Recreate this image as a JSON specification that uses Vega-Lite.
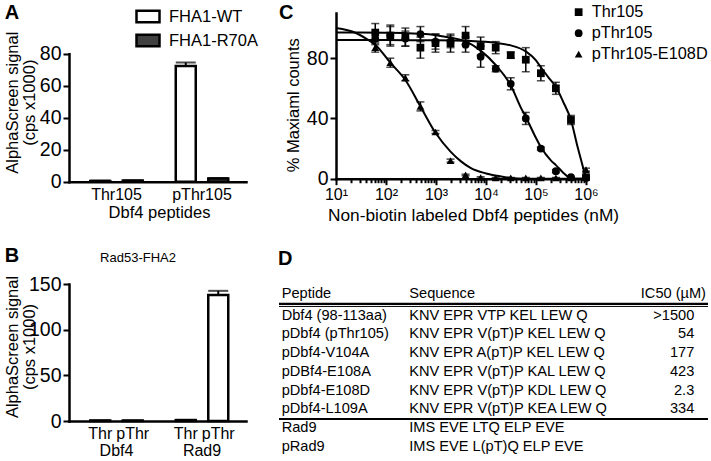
{
  "$schema": "https://vega.github.io/schema/vega-lite/v6.json",
  "background": "white",
  "autosize": {"type": "pad"},
  "padding": {"left": 4, "top": 2, "right": 0, "bottom": 0},
  "config": {
    "font": "Liberation Sans",
    "view": {"stroke": null},
    "mark": {"color": "black"},
    "axis": {"grid": false, "domainColor": "black", "domainWidth": 2.5, "domainCap": "square", "tickColor": "black", "tickWidth": 2, "tickSize": 6, "labelColor": "black", "titleColor": "black", "labelFont": "Liberation Sans", "titleFont": "Liberation Sans", "titleFontWeight": "normal", "labelFontSize": 16, "titleFontSize": 16.5, "labelOverlap": false},
    "axisY": {"labelFontSize": 19.5, "labelPadding": 2},
    "legend": {"labelFont": "Liberation Sans", "labelColor": "black"},
    "title": {"font": "Liberation Sans", "color": "black", "fontSize": 20, "fontWeight": "bold", "anchor": "start"},
    "text": {"font": "Liberation Sans", "color": "black"}
  },
  "datasets": {
    "panelA": [
      {"peptide": "Thr105", "construct": "FHA1-WT", "signal": 0.5, "upper": 0.7},
      {"peptide": "Thr105", "construct": "FHA1-R70A", "signal": 0.7, "upper": 0.9},
      {"peptide": "pThr105", "construct": "FHA1-WT", "signal": 72.3, "upper": 74.5},
      {"peptide": "pThr105", "construct": "FHA1-R70A", "signal": 2.0, "upper": 2.3}
    ],
    "panelB": [
      {"gene": "Dbf4", "form": "Thr", "signal": 0.5, "upper": 0.6},
      {"gene": "Dbf4", "form": "pThr", "signal": 0.5, "upper": 0.6},
      {"gene": "Rad9", "form": "Thr", "signal": 1.0, "upper": 1.2},
      {"gene": "Rad9", "form": "pThr", "signal": 138, "upper": 142.5}
    ],
    "panelBTitle": [
      {"label": "Rad53-FHA2"}
    ],
    "curves": [
      {"series": "Thr105", "conc": 10, "pct": 92},
      {"series": "Thr105", "conc": 100, "pct": 92},
      {"series": "Thr105", "conc": 1000, "pct": 91.9},
      {"series": "Thr105", "conc": 5000, "pct": 91.4},
      {"series": "Thr105", "conc": 15625, "pct": 90.2},
      {"series": "Thr105", "conc": 31250, "pct": 88.5},
      {"series": "Thr105", "conc": 62500, "pct": 84.5},
      {"series": "Thr105", "conc": 100000, "pct": 78.5},
      {"series": "Thr105", "conc": 125000, "pct": 74},
      {"series": "Thr105", "conc": 180000, "pct": 67},
      {"series": "Thr105", "conc": 250000, "pct": 61},
      {"series": "Thr105", "conc": 350000, "pct": 51},
      {"series": "Thr105", "conc": 500000, "pct": 39},
      {"series": "Thr105", "conc": 680000, "pct": 21},
      {"series": "Thr105", "conc": 850000, "pct": 9},
      {"series": "Thr105", "conc": 1000000, "pct": 0},
      {"series": "pThr105", "conc": 10, "pct": 97},
      {"series": "pThr105", "conc": 100, "pct": 96.9},
      {"series": "pThr105", "conc": 500, "pct": 96.2},
      {"series": "pThr105", "conc": 1000, "pct": 95.3},
      {"series": "pThr105", "conc": 2000, "pct": 93.6},
      {"series": "pThr105", "conc": 3900, "pct": 91.2},
      {"series": "pThr105", "conc": 7813, "pct": 85},
      {"series": "pThr105", "conc": 15625, "pct": 75.5},
      {"series": "pThr105", "conc": 31250, "pct": 62},
      {"series": "pThr105", "conc": 50000, "pct": 47},
      {"series": "pThr105", "conc": 62500, "pct": 41},
      {"series": "pThr105", "conc": 100000, "pct": 27},
      {"series": "pThr105", "conc": 125000, "pct": 21},
      {"series": "pThr105", "conc": 200000, "pct": 12},
      {"series": "pThr105", "conc": 250000, "pct": 9},
      {"series": "pThr105", "conc": 350000, "pct": 4},
      {"series": "pThr105", "conc": 450000, "pct": 1},
      {"series": "pThr105", "conc": 500000, "pct": 0.2},
      {"series": "pThr105", "conc": 1000000, "pct": 0},
      {"series": "pThr105-E108D", "conc": 10, "pct": 100},
      {"series": "pThr105-E108D", "conc": 25, "pct": 96.7},
      {"series": "pThr105-E108D", "conc": 40, "pct": 93},
      {"series": "pThr105-E108D", "conc": 61, "pct": 89},
      {"series": "pThr105-E108D", "conc": 122, "pct": 77},
      {"series": "pThr105-E108D", "conc": 244, "pct": 65.5},
      {"series": "pThr105-E108D", "conc": 488, "pct": 48},
      {"series": "pThr105-E108D", "conc": 977, "pct": 30.5},
      {"series": "pThr105-E108D", "conc": 1953, "pct": 18},
      {"series": "pThr105-E108D", "conc": 3162, "pct": 11.5},
      {"series": "pThr105-E108D", "conc": 5000, "pct": 7},
      {"series": "pThr105-E108D", "conc": 10000, "pct": 3.5},
      {"series": "pThr105-E108D", "conc": 20000, "pct": 1.5},
      {"series": "pThr105-E108D", "conc": 31250, "pct": 0.5},
      {"series": "pThr105-E108D", "conc": 60000, "pct": 0},
      {"series": "pThr105-E108D", "conc": 1000000, "pct": 0}
    ],
    "points": [
      {"series": "Thr105", "conc": 61, "pct": 97, "err": 6},
      {"series": "Thr105", "conc": 122, "pct": 95, "err": 7},
      {"series": "Thr105", "conc": 244, "pct": 94, "err": 6},
      {"series": "Thr105", "conc": 488, "pct": 87, "err": 7},
      {"series": "Thr105", "conc": 977, "pct": 90, "err": 6},
      {"series": "Thr105", "conc": 1953, "pct": 90, "err": 6},
      {"series": "Thr105", "conc": 3906, "pct": 95, "err": 6},
      {"series": "Thr105", "conc": 7813, "pct": 88, "err": 6},
      {"series": "Thr105", "conc": 15625, "pct": 87, "err": 4},
      {"series": "Thr105", "conc": 31250, "pct": 82, "err": 2},
      {"series": "Thr105", "conc": 62500, "pct": 79, "err": 8},
      {"series": "Thr105", "conc": 125000, "pct": 70, "err": 5},
      {"series": "Thr105", "conc": 250000, "pct": 60, "err": 4},
      {"series": "Thr105", "conc": 500000, "pct": 39, "err": 3},
      {"series": "Thr105", "conc": 1000000, "pct": 1, "err": 1},
      {"series": "pThr105", "conc": 61, "pct": 93, "err": 4},
      {"series": "pThr105", "conc": 122, "pct": 95, "err": 6},
      {"series": "pThr105", "conc": 244, "pct": 93, "err": 5},
      {"series": "pThr105", "conc": 488, "pct": 96, "err": 5},
      {"series": "pThr105", "conc": 977, "pct": 91, "err": 5},
      {"series": "pThr105", "conc": 1953, "pct": 91, "err": 4},
      {"series": "pThr105", "conc": 3906, "pct": 89, "err": 5},
      {"series": "pThr105", "conc": 7813, "pct": 81, "err": 7},
      {"series": "pThr105", "conc": 15625, "pct": 73, "err": 2},
      {"series": "pThr105", "conc": 31250, "pct": 63, "err": 4},
      {"series": "pThr105", "conc": 62500, "pct": 40, "err": 4},
      {"series": "pThr105", "conc": 125000, "pct": 20, "err": 1},
      {"series": "pThr105", "conc": 250000, "pct": 5, "err": 1},
      {"series": "pThr105", "conc": 500000, "pct": 1, "err": 0.5},
      {"series": "pThr105", "conc": 1000000, "pct": 0.5, "err": 0.5},
      {"series": "pThr105-E108D", "conc": 61, "pct": 87, "err": 3},
      {"series": "pThr105-E108D", "conc": 122, "pct": 77, "err": 3},
      {"series": "pThr105-E108D", "conc": 244, "pct": 67, "err": 2},
      {"series": "pThr105-E108D", "conc": 488, "pct": 48, "err": 3},
      {"series": "pThr105-E108D", "conc": 977, "pct": 31, "err": 1},
      {"series": "pThr105-E108D", "conc": 1953, "pct": 12, "err": 1},
      {"series": "pThr105-E108D", "conc": 3906, "pct": 2.5, "err": 0.5},
      {"series": "pThr105-E108D", "conc": 7813, "pct": 0.8, "err": 0.5},
      {"series": "pThr105-E108D", "conc": 15625, "pct": 0.5, "err": 0.3},
      {"series": "pThr105-E108D", "conc": 31250, "pct": 0.5, "err": 0.3},
      {"series": "pThr105-E108D", "conc": 62500, "pct": 0.5, "err": 0.3},
      {"series": "pThr105-E108D", "conc": 125000, "pct": 0.5, "err": 0.3},
      {"series": "pThr105-E108D", "conc": 250000, "pct": 0.5, "err": 0.3},
      {"series": "pThr105-E108D", "conc": 500000, "pct": 0.5, "err": 0.3},
      {"series": "pThr105-E108D", "conc": 1000000, "pct": 6, "err": 1}
    ],
    "tableHeader": [
      {"peptide": "Peptide", "sequence": "Sequence", "ic50": "IC50 (µM)"}
    ],
    "tableRows": [
      {"row": 1, "peptide": "Dbf4 (98-113aa)", "sequence": "KNV EPR VTP KEL LEW Q", "ic50": ">1500"},
      {"row": 2, "peptide": "pDbf4 (pThr105)", "sequence": "KNV EPR V(pT)P KEL LEW Q", "ic50": "54"},
      {"row": 3, "peptide": "pDbf4-V104A", "sequence": "KNV EPR A(pT)P KEL LEW Q", "ic50": "177"},
      {"row": 4, "peptide": "pDBf4-E108A", "sequence": "KNV EPR V(pT)P KAL LEW Q", "ic50": "423"},
      {"row": 5, "peptide": "pDbf4-E108D", "sequence": "KNV EPR V(pT)P KDL LEW Q", "ic50": "2.3"},
      {"row": 6, "peptide": "pDbf4-L109A", "sequence": "KNV EPR V(pT)P KEA LEW Q", "ic50": "334"},
      {"row": 7, "peptide": "Rad9", "sequence": "IMS EVE LTQ ELP EVE", "ic50": ""},
      {"row": 8, "peptide": "pRad9", "sequence": "IMS EVE L(pT)Q ELP EVE", "ic50": ""}
    ]
  },
  "columns": 2,
  "spacing": {"row": 102, "column": 33},
  "bounds": "flush",
  "concat": [
    {
      "width": 177,
      "height": 168.7,
      "data": {"name": "panelA"},
      "title": {"text": "A", "offset": 0, "dy": 10},
      "encoding": {
        "x": {"field": "peptide", "type": "nominal", "sort": ["Thr105", "pThr105"], "scale": {"type": "band", "domain": ["Thr105", "pThr105"], "paddingInner": 0.357, "paddingOuter": 0.2135, "align": 0.548}, "axis": {"title": "Dbf4 peptides", "labelAngle": 0, "ticks": false, "labelPadding": 5, "titleX": 90, "titleY": 31, "titleBaseline": "middle"}},
        "y": {"field": "signal", "type": "quantitative", "title": ["AlphaScreen signal", "(cps x1000)"], "scale": {"domain": [0, 80], "nice": false, "range": [168.7, 40.7]}, "axis": {"values": [0, 20, 40, 60, 80], "titleX": -56.3, "titleY": 89.2, "titleBaseline": "middle", "titleLineHeight": 16.5}}
      },
      "layer": [
        {
          "transform": [{"filter": "datum.construct == 'FHA1-WT'"}],
          "mark": {"type": "bar", "stroke": "black", "strokeWidth": 2.5, "width": 20, "xOffset": -16.25},
          "encoding": {
            "fill": {"field": "construct", "type": "nominal", "scale": {"domain": ["FHA1-WT", "FHA1-R70A"], "range": ["white", "#404040"]}, "legend": {"title": null, "orient": "none", "legendX": 66, "legendY": -9.5, "symbolType": "M-1,-0.5H1V0.5H-1Z", "symbolSize": 529, "symbolStrokeColor": "black", "symbolStrokeWidth": 2.5, "labelFontSize": 16.5, "rowPadding": -1, "labelOffset": 8, "padding": 0}}
          }
        },
        {
          "transform": [{"filter": "datum.construct == 'FHA1-R70A'"}],
          "mark": {"type": "bar", "stroke": "black", "strokeWidth": 2.5, "width": 20, "xOffset": 16.25},
          "encoding": {
            "fill": {"field": "construct", "type": "nominal", "scale": {"domain": ["FHA1-WT", "FHA1-R70A"], "range": ["white", "#404040"]}}
          }
        },
        {
          "transform": [{"filter": "datum.construct == 'FHA1-WT'"}],
          "mark": {"type": "rule", "strokeWidth": 2, "color": "black", "xOffset": -16.25},
          "encoding": {"y2": {"field": "upper"}}
        },
        {
          "transform": [{"filter": "datum.construct == 'FHA1-R70A'"}],
          "mark": {"type": "rule", "strokeWidth": 2, "color": "black", "xOffset": 16.25},
          "encoding": {"y2": {"field": "upper"}}
        },
        {
          "transform": [{"filter": "datum.construct == 'FHA1-WT'"}],
          "mark": {"type": "tick", "thickness": 2, "size": 20, "color": "black", "xOffset": -16.25},
          "encoding": {"y": {"field": "upper", "type": "quantitative", "title": ["AlphaScreen signal", "(cps x1000)"]}}
        },
        {
          "transform": [{"filter": "datum.construct == 'FHA1-R70A'"}],
          "mark": {"type": "tick", "thickness": 2, "size": 20, "color": "black", "xOffset": 16.25},
          "encoding": {"y": {"field": "upper", "type": "quantitative", "title": ["AlphaScreen signal", "(cps x1000)"]}}
        }
      ]
    },
    {
      "width": 307,
      "height": 165.7,
      "title": {"text": "C", "offset": 0, "dy": 9.5},
      "layer": [
        {
          "data": {"name": "curves"},
          "mark": {"type": "line", "color": "black", "strokeWidth": 2, "interpolate": "monotone"},
          "encoding": {
            "x": {"field": "conc", "type": "quantitative", "title": "Non-biotin labeled Dbf4 peptides (nM)", "scale": {"type": "log", "domain": [10, 1000000], "nice": false, "range": [57, 307]}, "axis": {"values": [10, 20, 30, 40, 50, 60, 70, 80, 90, 100, 200, 300, 400, 500, 600, 700, 800, 900, 1000, 2000, 3000, 4000, 5000, 6000, 7000, 8000, 9000, 10000, 20000, 30000, 40000, 50000, 60000, 70000, 80000, 90000, 100000, 200000, 300000, 400000, 500000, 600000, 700000, 800000, 900000, 1000000], "labelExpr": "abs(log(datum.value)/LN10 - round(log(datum.value)/LN10)) < 0.001 ? '10' + ['⁰','¹','²','³','⁴','⁵','⁶'][round(log(datum.value)/LN10)] : ''", "tickSize": {"condition": {"test": "abs(log(datum.value)/LN10 - round(log(datum.value)/LN10)) < 0.001", "value": 6}, "value": 4}, "labelFlush": false, "labelBound": false, "labelPadding": 2, "titleX": 194, "titleY": 37, "titleBaseline": "middle", "titleFontSize": 17.3}},
            "y": {"field": "pct", "type": "quantitative", "title": "% Maxiaml counts", "scale": {"domain": [0, 110], "nice": false, "zero": false}, "axis": {"values": [0, 20, 40, 60, 80, 100], "offset": -57, "titleX": -43, "titleY": 91.7, "titleBaseline": "middle"}},
            "detail": {"field": "series"}
          }
        },
        {
          "data": {"name": "points"},
          "mark": {"type": "errorbar", "ticks": true, "size": 8, "thickness": 1.5, "color": "black"},
          "encoding": {
            "x": {"field": "conc", "type": "quantitative", "title": "Non-biotin labeled Dbf4 peptides (nM)"},
            "y": {"field": "pct", "type": "quantitative", "title": "% Maxiaml counts"},
            "yError": {"field": "err"}
          }
        },
        {
          "data": {"name": "points"},
          "mark": {"type": "point", "filled": true, "opacity": 1, "size": 60, "color": "black"},
          "encoding": {
            "x": {"field": "conc", "type": "quantitative", "title": "Non-biotin labeled Dbf4 peptides (nM)"},
            "y": {"field": "pct", "type": "quantitative", "title": "% Maxiaml counts"},
            "shape": {"field": "series", "type": "nominal", "scale": {"domain": ["Thr105", "pThr105", "pThr105-E108D"], "range": ["square", "circle", "triangle-up"]}, "legend": {"title": null, "orient": "none", "legendX": 501.5, "legendY": -9, "labelFontSize": 16.3, "symbolSize": 60, "symbolFillColor": "black", "symbolStrokeColor": "black", "rowPadding": 4, "labelOffset": 5, "padding": 0}}
          }
        }
      ]
    },
    {
      "width": 177,
      "height": 137,
      "title": {"text": "B", "offset": 0, "dy": 14},
      "layer": [
        {
          "data": {"name": "panelB"},
          "encoding": {
            "x": {"field": "gene", "type": "nominal", "sort": ["Dbf4", "Rad9"], "scale": {"type": "band", "domain": ["Dbf4", "Rad9"], "paddingInner": 0.357, "paddingOuter": 0.2135, "align": 0.548}, "axis": {"title": null, "labelAngle": 0, "ticks": false, "labelPadding": 21}},
            "y": {"field": "signal", "type": "quantitative", "title": ["AlphaScreen signal", "(cps x1000)"], "scale": {"domain": [0, 150], "nice": false}, "axis": {"values": [0, 50, 100, 150], "titleX": -56.3, "titleY": 62.5, "titleBaseline": "middle", "titleLineHeight": 16.5}}
          },
          "layer": [
            {
              "transform": [{"filter": "datum.form == 'Thr'"}],
              "mark": {"type": "bar", "stroke": "black", "strokeWidth": 2.5, "fill": "white", "width": 20, "xOffset": -16.25}
            },
            {
              "transform": [{"filter": "datum.form == 'pThr'"}],
              "mark": {"type": "bar", "stroke": "black", "strokeWidth": 2.5, "fill": "white", "width": 20, "xOffset": 16.25}
            },
            {
              "transform": [{"filter": "datum.form == 'Thr'"}],
              "mark": {"type": "rule", "strokeWidth": 2, "color": "black", "xOffset": -16.25},
              "encoding": {"y2": {"field": "upper"}}
            },
            {
              "transform": [{"filter": "datum.form == 'pThr'"}],
              "mark": {"type": "rule", "strokeWidth": 2, "color": "black", "xOffset": 16.25},
              "encoding": {"y2": {"field": "upper"}}
            },
            {
              "transform": [{"filter": "datum.form == 'Thr'"}],
              "mark": {"type": "tick", "thickness": 2, "size": 20, "color": "black", "xOffset": -16.25},
              "encoding": {"y": {"field": "upper", "type": "quantitative", "title": ["AlphaScreen signal", "(cps x1000)"]}}
            },
            {
              "transform": [{"filter": "datum.form == 'pThr'"}],
              "mark": {"type": "tick", "thickness": 2, "size": 20, "color": "black", "xOffset": 16.25},
              "encoding": {"y": {"field": "upper", "type": "quantitative", "title": ["AlphaScreen signal", "(cps x1000)"]}}
            },
            {
              "transform": [{"filter": "datum.form == 'Thr'"}],
              "mark": {"type": "text", "fontSize": 16, "baseline": "middle", "xOffset": -16.25},
              "encoding": {"text": {"field": "form"}, "y": {"datum": -14.2, "type": "quantitative"}}
            },
            {
              "transform": [{"filter": "datum.form == 'pThr'"}],
              "mark": {"type": "text", "fontSize": 16, "baseline": "middle", "xOffset": 16.25},
              "encoding": {"text": {"field": "form"}, "y": {"datum": -14.2, "type": "quantitative"}}
            }
          ]
        },
        {
          "data": {"name": "panelBTitle"},
          "mark": {"type": "text", "fontSize": 13, "baseline": "middle"},
          "encoding": {
            "text": {"field": "label"},
            "x": {"datum": 0.39, "type": "quantitative", "scale": {"domain": [0, 1]}, "axis": null},
            "y": {"datum": 178.5, "type": "quantitative"}
          }
        }
      ],
      "resolve": {"scale": {"x": "independent"}}
    },
    {
      "width": 429,
      "height": 177.65,
      "title": {"text": "D", "offset": 15},
      "layer": [
        {
          "data": {"name": "tableHeader"},
          "mark": {"type": "text", "align": "left", "baseline": "middle", "fontSize": 14.6},
          "encoding": {
            "text": {"field": "peptide"},
            "x": {"datum": 0.63, "type": "quantitative", "scale": {"domain": [0, 100], "nice": false, "zero": false}, "axis": null},
            "y": {"datum": -0.18, "type": "quantitative", "scale": {"domain": [-0.7, 8.8], "reverse": true, "nice": false, "zero": false}, "axis": null}
          }
        },
        {
          "data": {"name": "tableHeader"},
          "mark": {"type": "text", "align": "left", "baseline": "middle", "fontSize": 14.6},
          "encoding": {"text": {"field": "sequence"}, "x": {"datum": 30.37, "type": "quantitative"}, "y": {"datum": -0.18, "type": "quantitative"}}
        },
        {
          "data": {"name": "tableHeader"},
          "mark": {"type": "text", "align": "right", "baseline": "middle", "fontSize": 14.6},
          "encoding": {"text": {"field": "ic50"}, "x": {"datum": 99.53, "type": "quantitative"}, "y": {"datum": -0.18, "type": "quantitative"}}
        },
        {
          "data": {"name": "tableRows"},
          "mark": {"type": "text", "align": "left", "baseline": "middle", "fontSize": 14.6},
          "encoding": {"text": {"field": "peptide"}, "x": {"datum": 0.63, "type": "quantitative"}, "y": {"field": "row", "type": "quantitative"}}
        },
        {
          "data": {"name": "tableRows"},
          "mark": {"type": "text", "align": "left", "baseline": "middle", "fontSize": 14.6},
          "encoding": {"text": {"field": "sequence"}, "x": {"datum": 30.37, "type": "quantitative"}, "y": {"field": "row", "type": "quantitative"}}
        },
        {
          "data": {"name": "tableRows"},
          "mark": {"type": "text", "align": "right", "baseline": "middle", "fontSize": 14.6},
          "encoding": {"text": {"field": "ic50"}, "x": {"datum": 96.8, "type": "quantitative"}, "y": {"field": "row", "type": "quantitative"}}
        },
        {
          "data": {"name": "tableHeader"},
          "mark": {"type": "rule", "strokeWidth": 2.2, "color": "black"},
          "encoding": {"x": {"datum": 0, "type": "quantitative"}, "x2": {"datum": 100}, "y": {"datum": 0.36, "type": "quantitative"}}
        },
        {
          "data": {"name": "tableHeader"},
          "mark": {"type": "rule", "strokeWidth": 1, "color": "black"},
          "encoding": {"x": {"datum": 0, "type": "quantitative"}, "x2": {"datum": 100}, "y": {"datum": 0.5, "type": "quantitative"}}
        },
        {
          "data": {"name": "tableHeader"},
          "mark": {"type": "rule", "strokeWidth": 2, "color": "black"},
          "encoding": {"x": {"datum": 0, "type": "quantitative"}, "x2": {"datum": 100}, "y": {"datum": 6.52, "type": "quantitative"}}
        }
      ]
    }
  ]
}
